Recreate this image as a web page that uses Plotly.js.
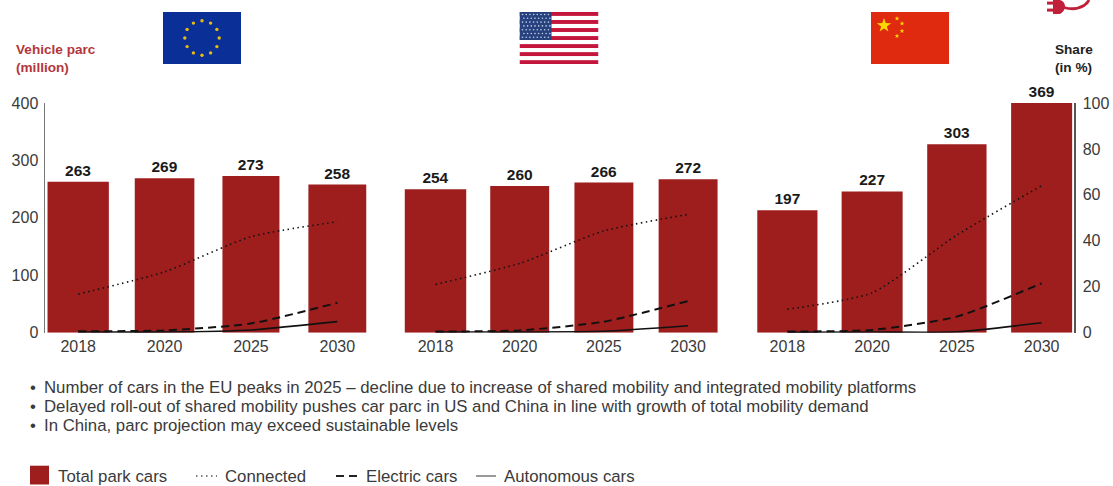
<!DOCTYPE html>
<html>
<head>
<meta charset="utf-8">
<script src="https://cdn.plot.ly/plotly-3.0.1.min.js"></script>
<style>html,body{margin:0;padding:0;background:#fff}#chart{width:1113px;height:486px}</style>
</head>
<body>
<div id="chart"></div>
<script>
// Vehicle parc outlook by region
const years = ['2018', '2020', '2025', '2030'];
const parcEU = [263, 269, 273, 258];
const parcUS = [254, 260, 266, 272];
const parcCN = [197, 227, 303, 369];
const connectedEU = [16.8, 26.5, 41.8, 48.3];
const connectedUS = [21, 30.2, 44.3, 51.5];
const connectedCN = [10.2, 17.4, 42.5, 64];
const electricEU = [0.6, 1, 4, 13];
const electricUS = [0.5, 1, 4.8, 13.8];
const electricCN = [0.5, 1.2, 7, 21.5];
const autonomousEU = [0.3, 0.3, 1.2, 4.8];
const autonomousUS = [0.3, 0.3, 0.6, 3];
const autonomousCN = [0.2, 0.3, 0.4, 4.3];
const leftTicks = [0, 100, 200, 300, 400];
const rightTicks = [0, 20, 40, 60, 80, 100];
const notes = [
  'Number of cars in the EU peaks in 2025 \u2013 decline due to increase of shared mobility and integrated mobility platforms',
  'Delayed roll-out of shared mobility pushes car parc in US and China in line with growth of total mobility demand',
  'In China, parc projection may exceed sustainable levels'
];

const W = 1113, H = 486;
const px = v => v / W;
const py = v => 1 - v / H;
const RED = '#9e1e1e';
const FONT = '"Liberation Sans", Arial, sans-serif';
const TEXT = '#3a3a3a';
const PLOT_TOP = 103, PLOT_BOTTOM = 332.7;

// Each region keeps its own x axis and bar scale; the share lines use y4
const panels = [
  {xa: 'x', ya: 'y', parc: parcEU, con: connectedEU, ele: electricEU, aut: autonomousEU,
   widths: [0.71, 0.69, 0.66, 0.67], dom: [35, 380.5], max: 400},
  {xa: 'x2', ya: 'y2', parc: parcUS, con: connectedUS, ele: electricUS, aut: autonomousUS,
   widths: [0.73, 0.70, 0.70, 0.70], dom: [393.4, 730.2], max: 407},
  {xa: 'x3', ya: 'y3', parc: parcCN, con: connectedCN, ele: electricCN, aut: autonomousCN,
   widths: [0.71, 0.72, 0.70, 0.72], dom: [745, 1084], max: 369.2}
];

const traces = [];
panels.forEach(p => {
  traces.push({
    type: 'bar', x: years, y: p.parc, xaxis: p.xa, yaxis: p.ya, width: p.widths,
    marker: {color: RED}, text: p.parc.map(String), textposition: 'outside',
    textangle: 0, cliponaxis: false, constraintext: 'none',
    textfont: {family: FONT, size: 15.5, color: '#1a1a1a', weight: 700},
    showlegend: false, hoverinfo: 'x+y'
  });
  const line = (vals, dash, width) => ({
    type: 'scatter', mode: 'lines', x: years, y: vals, xaxis: p.xa, yaxis: 'y4',
    line: {color: '#111', dash: dash, width: width, shape: 'spline', smoothing: 0.6},
    showlegend: false, hoverinfo: 'x+y'
  });
  traces.push(line(p.con, '1.5px,3.5px', 1.6));
  traces.push(line(p.ele, '8px,5px', 2));
  traces.push(line(p.aut, 'solid', 1.6));
});

const xAxis = p => ({
  type: 'category', categoryorder: 'array', categoryarray: years, range: [-0.5, 3.5],
  domain: [px(p.dom[0]), px(p.dom[1])], anchor: 'y', showgrid: false, zeroline: false,
  showline: false, ticks: '', ticklen: 0, ticklabelstandoff: 2,
  tickfont: {family: FONT, size: 16, color: TEXT}
});
const yDomain = [py(PLOT_BOTTOM), py(PLOT_TOP)];
const hiddenY = p => ({
  domain: yDomain, range: [0, p.max], anchor: 'free', position: 0, visible: false, fixedrange: true
});

// Flags and the plug mark as small inline SVGs
const svg = s => 'data:image/svg+xml;utf8,' + encodeURIComponent(s);
const circleStars = Array.from({length: 12}, (_, i) => {
  const a = i * Math.PI / 6;
  return `<circle cx="${39 + 17.2 * Math.sin(a)}" cy="${26 - 17.2 * Math.cos(a)}" r="1.7" fill="#e8bd10"/>`;
}).join('');
const euFlag = `<svg xmlns="http://www.w3.org/2000/svg" width="78" height="52" viewBox="0 0 78 52"><rect width="78" height="52" fill="#0a2f96"/>${circleStars}</svg>`;
let usBody = '<rect width="79" height="52" fill="#fff"/>';
for (let i = 0; i < 7; i++) usBody += `<rect y="${i * 8.03}" width="79" height="3.9" fill="#c4163c"/>`;
usBody += '<rect width="32" height="28" fill="#27427f"/>';
for (let r = 0; r < 7; r++) for (let c = 0; c < 8; c++)
  usBody += `<circle cx="${3 + c * 3.7 + (r % 2) * 1.4}" cy="${2.5 + r * 3.8}" r="0.8" fill="#c8d0e4"/>`;
const usFlag = `<svg xmlns="http://www.w3.org/2000/svg" width="79" height="52" viewBox="0 0 79 52">${usBody}</svg>`;
const star = (cx, cy, R) => {
  const pts = [];
  for (let i = 0; i < 10; i++) {
    const r = i % 2 ? R * 0.4 : R, a = i * Math.PI / 5;
    pts.push((cx + r * Math.sin(a)).toFixed(2) + ',' + (cy - r * Math.cos(a)).toFixed(2));
  }
  return `<polygon points="${pts.join(' ')}" fill="#ffd800"/>`;
};
const cnFlag = `<svg xmlns="http://www.w3.org/2000/svg" width="78" height="52" viewBox="0 0 78 52"><rect width="78" height="52" fill="#e02a10"/>${star(13, 13.5, 7.5)}${star(26, 6.5, 2.5)}${star(31, 11.5, 2.5)}${star(31, 19, 2.5)}${star(26, 24, 2.5)}</svg>`;
const plug = `<svg xmlns="http://www.w3.org/2000/svg" width="44" height="14" viewBox="0 0 44 14"><g fill="#c0203a"><rect x="0" y="1.6" width="8" height="3"/><rect x="0" y="8.6" width="8" height="3"/><path d="M6 0H13C16.5 1 18 4 18 6.5C18 9.5 16 12.5 13 14H6Z"/></g><path d="M17 7.5C24 9.5 32 8.5 37 5.5C39 4 41 2 42 0" fill="none" stroke="#c0203a" stroke-width="2.8"/></svg>`;
const picture = (src, x, y, w, h) => ({
  source: svg(src), xref: 'paper', yref: 'paper', x: px(x), y: py(y),
  sizex: w / W, sizey: h / H, xanchor: 'left', yanchor: 'top', sizing: 'stretch', layer: 'above'
});

const label = (t, x, y, opts) => Object.assign({
  text: t, xref: 'paper', yref: 'paper', x: px(x), y: py(y), xanchor: 'left', yanchor: 'middle',
  showarrow: false, align: 'left', font: {family: FONT, size: 16.8, color: TEXT}
}, opts || {});

const annotations = [
  label('Vehicle parc<br>(million)', 14, 58.5, {font: {family: FONT, size: 13.6, color: '#b3363c', weight: 700}}),
  label('Share<br>(in %)', 1053, 58.5, {font: {family: FONT, size: 13.6, color: '#222', weight: 700}})
];
notes.forEach((n, i) => {
  const y = 387.5 + i * 19.2;
  annotations.push(label('\u2022', 28, y));
  annotations.push(label(n, 42, y));
});
annotations.push(label('Total park cars', 56, 476));
annotations.push(label('Connected', 223, 476));
annotations.push(label('Electric cars', 364, 476));
annotations.push(label('Autonomous cars', 502, 476));

const keyLine = (x0, x1, dash, width, color) => ({
  type: 'line', xref: 'paper', yref: 'paper', x0: px(x0), x1: px(x1), y0: py(476), y1: py(476),
  line: {color: color, dash: dash, width: width}
});

const shapes = [
  {type: 'rect', xref: 'paper', yref: 'paper', x0: px(30), x1: px(49), y0: py(465.7), y1: py(484.5),
   fillcolor: RED, line: {width: 0}},
  keyLine(196, 217, '1.5px,3.5px', 1.4, '#555'),
  keyLine(336, 357, '8px,5px', 2, '#222'),
  keyLine(476, 496, 'solid', 1.5, '#777')
];

const layout = {
  width: W, height: H, margin: {l: 0, r: 0, t: 0, b: 0}, paper_bgcolor: '#fff', plot_bgcolor: 'rgba(0,0,0,0)',
  showlegend: false,
  xaxis: xAxis(panels[0]), xaxis2: xAxis(panels[1]), xaxis3: xAxis(panels[2]),
  yaxis: {
    domain: yDomain, range: [0, panels[0].max], anchor: 'free', position: px(43.5), side: 'left',
    tickvals: leftTicks, showgrid: false, zeroline: false, showline: true, linecolor: '#777', linewidth: 1.5,
    ticks: '', ticklabelstandoff: 2, tickfont: {family: FONT, size: 16, color: TEXT}, fixedrange: true
  },
  yaxis2: hiddenY(panels[1]),
  yaxis3: hiddenY(panels[2]),
  yaxis4: {
    domain: yDomain, range: [0, 100], anchor: 'free', position: px(1074), side: 'right',
    tickvals: rightTicks, showgrid: false, zeroline: false, showline: true, linecolor: '#555', linewidth: 1.5,
    ticks: '', ticklabelstandoff: 4, tickfont: {family: FONT, size: 16, color: TEXT}, fixedrange: true
  },
  images: [
    picture(euFlag, 163, 12, 78, 52),
    picture(usFlag, 519.5, 12, 79, 52),
    picture(cnFlag, 871, 12, 78, 52),
    picture(plug, 1047, 0, 44, 14)
  ],
  annotations: annotations,
  shapes: shapes
};

Plotly.newPlot('chart', traces, layout, {displayModeBar: false, staticPlot: true});
</script>
</body>
</html>
